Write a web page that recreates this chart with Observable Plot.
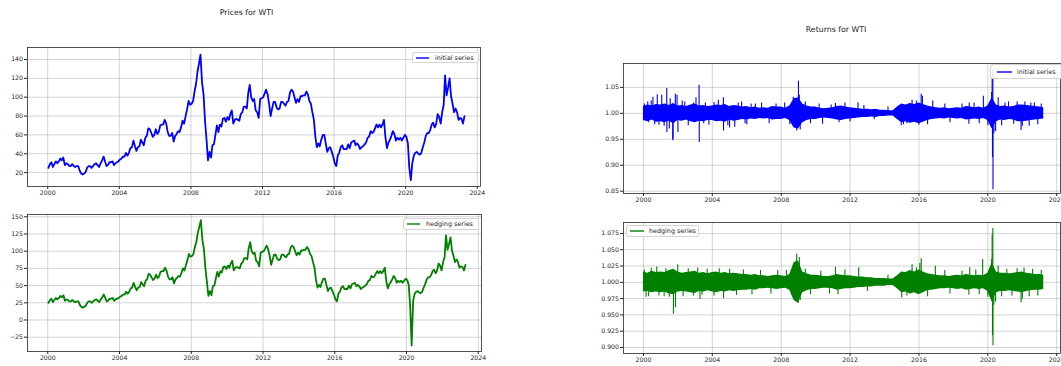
<!DOCTYPE html>
<html><head><meta charset="utf-8">
<script src="https://cdn.jsdelivr.net/npm/d3@7"></script>
<script src="https://cdn.jsdelivr.net/npm/@observablehq/plot@0.6"></script>
<style>
html,body{margin:0;padding:0;background:#fff;}
#root{position:relative;width:1061px;height:366px;overflow:hidden;font-family:"DejaVu Sans",sans-serif;background:#fff;}
.title{position:absolute;font-size:7.8px;color:#222;white-space:nowrap;transform:translate(-50%,-50%);}
.panel{position:absolute;}
.legend{position:absolute;background:rgba(255,255,255,0.9);border:1px solid #d4d4d4;border-radius:2px;box-sizing:border-box;font-size:6.4px;color:#222;display:flex;align-items:center;white-space:nowrap;}
.legend svg{display:block;}
</style></head>
<body><div id="root"></div>
<script>
// ---------------- data ----------------
const yearTicks = [2000, 2004, 2008, 2012, 2016, 2020, 2024];
const priceTicksTop = [20, 40, 60, 80, 100, 120, 140];
const priceTicksBottom = [-25, 0, 25, 50, 75, 100, 125, 150];
const returnTicksTop = [0.85, 0.90, 0.95, 1.00, 1.05];
const returnTicksBottom = [0.900, 0.925, 0.950, 0.975, 1.000, 1.025, 1.050, 1.075];

// monthly WTI prices (mid-month), Jan 2000 .. Apr 2023
const initialPrices = [
  25, 29, 31, 26, 29, 32, 30, 32, 35, 33, 36, 28,
  30, 29, 27, 27, 29, 27, 26, 27, 27, 22, 19, 18,
  19, 21, 25, 27, 27, 25, 27, 29, 30, 28, 26, 30,
  33, 37, 32, 27, 28, 31, 31, 32, 28, 30, 31, 32,
  34, 35, 37, 37, 41, 38, 41, 46, 47, 54, 48, 43,
  47, 48, 55, 52, 49, 57, 59, 67, 66, 62, 58, 60,
  66, 61, 63, 70, 71, 71, 76, 72, 63, 59, 59, 62,
  53, 59, 61, 64, 63, 68, 75, 72, 80, 87, 96, 92,
  93, 96, 106, 114, 127, 136, 145, 116, 103, 75, 55, 33,
  42, 36, 49, 50, 60, 70, 63, 71, 69, 77, 78, 74,
  79, 76, 82, 86, 72, 76, 77, 76, 75, 82, 84, 90,
  90, 88, 104, 113, 100, 96, 98, 86, 84, 78, 98, 99,
  100, 104, 108, 103, 93, 80, 88, 95, 95, 89, 87, 88,
  95, 95, 93, 91, 95, 96, 105, 108, 106, 100, 94, 98,
  95, 101, 101, 102, 102, 106, 103, 96, 93, 84, 76, 58,
  47, 51, 48, 55, 60, 60, 51, 42, 46, 47, 42, 37,
  30, 27, 38, 41, 47, 49, 45, 45, 45, 50, 46, 52,
  53, 54, 49, 51, 49, 45, 47, 48, 50, 52, 57, 58,
  64, 62, 63, 67, 71, 68, 71, 68, 71, 76, 57, 46,
  52, 55, 59, 64, 61, 54, 57, 55, 57, 54, 57, 60,
  58, 51, 25, 12, 30, 38, 41, 42, 40, 39, 41, 47,
  52, 59, 62, 62, 65, 71, 73, 68, 72, 82, 79, 72,
  84, 92, 123, 102, 110, 120, 101, 93, 84, 88, 84, 76,
  78, 77, 72, 80
];
const hedgingPrices = [
  25, 29, 31, 26, 29, 32, 30, 32, 35, 33, 36, 28,
  30, 29, 27, 27, 29, 27, 26, 27, 27, 22, 19, 18,
  19, 21, 25, 27, 27, 25, 27, 29, 30, 28, 26, 30,
  33, 37, 32, 27, 28, 31, 31, 32, 28, 30, 31, 32,
  34, 35, 37, 37, 41, 38, 41, 46, 47, 54, 48, 43,
  47, 48, 55, 52, 49, 57, 59, 67, 66, 62, 58, 60,
  66, 61, 63, 70, 71, 71, 76, 72, 63, 59, 59, 62,
  53, 59, 61, 64, 63, 68, 75, 72, 80, 87, 96, 92,
  93, 96, 106, 114, 127, 136, 145, 116, 103, 75, 55, 35,
  42, 36, 49, 50, 60, 70, 63, 71, 69, 77, 78, 74,
  79, 76, 82, 86, 72, 76, 77, 76, 75, 82, 84, 90,
  90, 88, 104, 113, 100, 96, 98, 86, 84, 78, 98, 99,
  100, 104, 108, 103, 93, 80, 88, 95, 95, 89, 87, 88,
  95, 95, 93, 91, 95, 96, 105, 108, 106, 100, 94, 98,
  95, 101, 101, 102, 102, 106, 103, 96, 93, 84, 76, 58,
  47, 51, 48, 55, 60, 60, 51, 42, 46, 47, 42, 37,
  30, 27, 38, 41, 47, 49, 45, 45, 45, 50, 46, 52,
  53, 54, 49, 51, 49, 45, 47, 48, 50, 52, 57, 58,
  64, 62, 63, 67, 71, 68, 71, 68, 71, 76, 57, 46,
  52, 55, 59, 64, 61, 54, 57, 55, 57, 54, 57, 60,
  58, 51, 21, -37, 28, 38, 41, 42, 40, 39, 41, 47,
  52, 59, 62, 62, 65, 71, 73, 68, 72, 82, 79, 72,
  84, 92, 123, 102, 110, 120, 101, 93, 84, 88, 84, 76,
  78, 77, 72, 80
];

// quarterly envelope of daily returns (Q1 2000 .. Q2 2023)
const initialReturnHigh = [
  1.013, 1.016, 1.014, 1.017,  1.016, 1.018, 1.015, 1.019,  1.014, 1.015, 1.013, 1.016,
  1.018, 1.014, 1.015, 1.013,  1.014, 1.016, 1.015, 1.017,  1.013, 1.015, 1.014, 1.012,
  1.013, 1.011, 1.012, 1.010,  1.011, 1.010, 1.013, 1.012,  1.012, 1.010, 1.014, 1.028,
  1.030, 1.018, 1.014, 1.012,  1.012, 1.010, 1.009, 1.010,  1.011, 1.013, 1.014, 1.012,
  1.011, 1.010, 1.009, 1.008,  1.008, 1.007, 1.008, 1.006,  1.006, 1.005, 1.005, 1.012,
  1.018, 1.016, 1.019, 1.017,  1.020, 1.017, 1.014, 1.012,  1.011, 1.010, 1.011, 1.009,
  1.010, 1.011, 1.010, 1.013,  1.012, 1.011, 1.012, 1.010,  1.014, 1.030, 1.016, 1.013,
  1.014, 1.012, 1.013, 1.016,  1.016, 1.015, 1.014, 1.013,  1.012, 1.011
];
const initialReturnLow = [
  0.986, 0.984, 0.987, 0.983,  0.984, 0.982, 0.985, 0.980,  0.986, 0.985, 0.987, 0.984,
  0.982, 0.985, 0.984, 0.986,  0.986, 0.984, 0.985, 0.983,  0.987, 0.985, 0.986, 0.988,
  0.987, 0.989, 0.988, 0.990,  0.989, 0.990, 0.987, 0.988,  0.988, 0.990, 0.986, 0.972,
  0.970, 0.982, 0.986, 0.988,  0.988, 0.990, 0.991, 0.990,  0.989, 0.987, 0.986, 0.988,
  0.989, 0.990, 0.991, 0.992,  0.992, 0.993, 0.992, 0.994,  0.994, 0.995, 0.995, 0.988,
  0.982, 0.984, 0.981, 0.983,  0.980, 0.983, 0.986, 0.988,  0.989, 0.990, 0.989, 0.991,
  0.990, 0.989, 0.990, 0.987,  0.988, 0.989, 0.988, 0.990,  0.986, 0.970, 0.984, 0.987,
  0.986, 0.988, 0.987, 0.984,  0.984, 0.985, 0.986, 0.987,  0.988, 0.989
];
const hedgingReturnHigh = [
  1.016, 1.014, 1.017, 1.015,  1.016, 1.015, 1.018, 1.020,  1.016, 1.014, 1.015, 1.016,
  1.017, 1.014, 1.015, 1.013,  1.015, 1.016, 1.014, 1.015,  1.013, 1.014, 1.013, 1.012,
  1.012, 1.011, 1.012, 1.010,  1.010, 1.009, 1.010, 1.011,  1.010, 1.009, 1.012, 1.030,
  1.033, 1.016, 1.013, 1.011,  1.011, 1.010, 1.009, 1.009,  1.010, 1.012, 1.011, 1.010,
  1.010, 1.009, 1.008, 1.008,  1.007, 1.007, 1.006, 1.006,  1.006, 1.005, 1.005, 1.010,
  1.016, 1.015, 1.018, 1.016,  1.019, 1.016, 1.013, 1.012,  1.011, 1.010, 1.010, 1.009,
  1.010, 1.011, 1.010, 1.012,  1.011, 1.010, 1.011, 1.010,  1.014, 1.030, 1.016, 1.014,
  1.014, 1.013, 1.014, 1.015,  1.016, 1.014, 1.013, 1.012,  1.012, 1.011
];
const hedgingReturnLow = [
  0.985, 0.986, 0.984, 0.985,  0.984, 0.985, 0.982, 0.981,  0.985, 0.986, 0.985, 0.984,
  0.983, 0.986, 0.985, 0.987,  0.985, 0.984, 0.986, 0.985,  0.987, 0.986, 0.987, 0.988,
  0.988, 0.989, 0.988, 0.990,  0.990, 0.991, 0.990, 0.989,  0.990, 0.991, 0.988, 0.972,
  0.968, 0.984, 0.987, 0.989,  0.989, 0.990, 0.991, 0.991,  0.990, 0.988, 0.989, 0.990,
  0.990, 0.991, 0.992, 0.992,  0.993, 0.993, 0.994, 0.994,  0.994, 0.995, 0.995, 0.990,
  0.984, 0.985, 0.982, 0.984,  0.981, 0.984, 0.987, 0.988,  0.989, 0.990, 0.990, 0.991,
  0.990, 0.989, 0.990, 0.988,  0.989, 0.990, 0.989, 0.990,  0.986, 0.970, 0.984, 0.986,
  0.986, 0.987, 0.986, 0.985,  0.984, 0.986, 0.987, 0.988,  0.988, 0.989
];

// isolated large daily returns [year, return]
const initialReturnSpikes = [
  [2000.05, 1.018], [2000.25, 1.022], [2000.30, 0.982], [2000.45, 1.024], [2000.55, 1.031],
  [2000.65, 0.978], [2000.80, 1.036], [2000.90, 0.977], [2001.06, 1.035], [2001.20, 0.975],
  [2001.35, 1.048], [2001.36, 0.963], [2001.50, 0.970], [2001.55, 1.028], [2001.70, 0.947],
  [2001.72, 0.950], [2001.85, 1.037], [2001.95, 1.035], [2002.00, 0.963], [2002.25, 1.024],
  [2002.40, 1.022], [2002.60, 0.976], [2002.90, 1.020], [2003.05, 1.030], [2003.23, 1.054],
  [2003.24, 0.944], [2003.50, 0.980], [2003.60, 1.020], [2003.80, 0.977], [2004.10, 1.021],
  [2004.35, 1.025], [2004.64, 1.030], [2004.65, 0.966], [2004.90, 0.976], [2005.00, 0.972],
  [2005.30, 0.973], [2005.50, 1.020], [2005.70, 1.022], [2005.90, 0.980], [2006.00, 0.978],
  [2006.25, 1.018], [2006.50, 1.018], [2006.86, 1.020], [2007.30, 0.980], [2007.70, 1.018],
  [2008.20, 1.020], [2008.50, 0.978], [2008.70, 1.031], [2008.90, 0.966], [2009.00, 1.062],
  [2009.05, 1.035], [2009.10, 0.968], [2009.40, 1.022], [2009.70, 0.980], [2010.20, 1.018],
  [2010.40, 0.979], [2010.90, 1.016], [2011.15, 1.019], [2011.36, 0.982], [2011.70, 1.020],
  [2012.00, 0.984], [2012.46, 1.0205], [2012.80, 1.015], [2013.40, 0.988], [2014.20, 1.012],
  [2014.97, 0.976], [2015.10, 0.978], [2015.30, 0.980], [2015.60, 1.025], [2015.85, 1.024],
  [2016.00, 0.977], [2016.13, 1.037], [2016.20, 1.033], [2016.50, 0.978], [2016.80, 1.024],
  [2017.50, 1.018], [2017.80, 0.982], [2018.50, 1.018], [2018.92, 1.020], [2018.90, 0.979],
  [2019.20, 1.020], [2019.50, 0.980], [2019.74, 1.033], [2020.00, 0.976], [2020.22, 1.040],
  [2020.25, 1.074], [2020.27, 0.915], [2020.29, 1.085], [2020.30, 0.853], [2020.35, 0.960],
  [2020.45, 0.965], [2020.60, 1.030], [2020.80, 0.976], [2021.00, 1.020], [2021.20, 1.022],
  [2021.50, 0.979], [2021.70, 1.022], [2021.93, 0.967], [2022.00, 0.975], [2022.15, 1.022],
  [2022.40, 0.975], [2022.50, 1.020], [2022.70, 1.020], [2022.90, 0.978], [2023.10, 1.018]
];
const hedgingReturnSpikes = [
  [2000.05, 1.019], [2000.15, 0.977], [2000.30, 0.978], [2000.45, 1.022], [2000.77, 1.0235],
  [2000.90, 0.979], [2001.20, 0.978], [2001.30, 1.021], [2001.50, 0.977], [2001.74, 0.951],
  [2001.86, 0.961], [2001.99, 1.027], [2002.30, 0.978], [2002.60, 1.021], [2002.90, 0.979],
  [2003.15, 1.022], [2003.28, 0.9735], [2003.40, 0.980], [2003.70, 1.020], [2004.10, 0.979],
  [2004.40, 1.021], [2004.65, 0.975], [2005.00, 1.020], [2005.40, 0.980], [2005.80, 1.019],
  [2006.30, 0.981], [2006.80, 1.018], [2007.40, 0.982], [2007.80, 1.018], [2008.30, 1.018],
  [2008.60, 0.980], [2008.85, 1.032], [2008.90, 1.0435], [2008.98, 0.968], [2009.05, 1.038],
  [2009.10, 0.972], [2009.40, 1.020], [2009.70, 0.981], [2010.30, 1.017], [2010.80, 0.982],
  [2011.15, 1.023], [2011.30, 0.981], [2011.70, 1.019], [2012.50, 1.0225], [2013.00, 0.986],
  [2014.20, 1.011], [2015.00, 0.976], [2015.30, 0.979], [2015.60, 1.027], [2015.85, 1.022],
  [2016.05, 1.029], [2016.13, 1.036], [2016.50, 0.978], [2016.95, 1.0245], [2017.50, 1.018],
  [2017.80, 0.982], [2018.50, 1.017], [2018.95, 1.0225], [2018.90, 0.980], [2019.30, 1.019],
  [2019.50, 0.981], [2019.70, 1.035], [2020.00, 0.977], [2020.22, 1.035], [2020.25, 1.073],
  [2020.27, 0.918], [2020.29, 1.0825], [2020.30, 0.9025], [2020.35, 0.965], [2020.45, 0.970],
  [2020.60, 1.025], [2020.80, 0.978], [2021.10, 1.020], [2021.40, 0.979], [2021.70, 1.021],
  [2021.93, 0.9685], [2022.00, 0.974], [2022.10, 1.022], [2022.40, 0.978], [2022.60, 1.020],
  [2022.90, 0.979], [2023.10, 1.018]
];

// ---------------- helpers ----------------
const fy = y => { const yr = Math.floor(y), f = y - yr; const s = Date.UTC(yr, 0, 1), e = Date.UTC(yr + 1, 0, 1); return new Date(s + f * (e - s)); };
const yearDates = yearTicks.map(y => new Date(Date.UTC(y, 0, 1)));
const monthly = arr => arr.map((v, i) => ({date: new Date(Date.UTC(2000, i, 15)), value: v}));
const quarterly = (hi, lo) => hi.map((h, i) => ({date: new Date(Date.UTC(2000, i * 3, 1)), hi: h, lo: lo[i]}));
const spikes = arr => arr.map(([y, v]) => ({date: fy(y), value: v}));
const minus = s => s.replace("-", "\u2212");

const BLUE = "#0000ff", GREEN = "#008000";
const root = document.getElementById("root");
const NS = "http://www.w3.org/2000/svg";

function addTitle(text, cx, cy) {
  const d = document.createElement("div");
  d.className = "title"; d.textContent = text;
  d.style.left = cx + "px"; d.style.top = cy + "px";
  root.appendChild(d);
}
function addLegend(text, color, box, sw) {
  const d = document.createElement("div");
  d.className = "legend";
  Object.assign(d.style, {left: box.x + "px", top: box.y + "px", width: box.w + "px", height: box.h + "px", paddingLeft: sw.pad + "px"});
  const s = document.createElementNS(NS, "svg");
  s.setAttribute("width", sw.w); s.setAttribute("height", 4);
  s.style.marginRight = sw.gap + "px";
  const ln = document.createElementNS(NS, "line");
  ln.setAttribute("x1", 0); ln.setAttribute("x2", sw.w); ln.setAttribute("y1", 2); ln.setAttribute("y2", 2);
  ln.setAttribute("stroke", color); ln.setAttribute("stroke-width", 1.4);
  s.appendChild(ln);
  const t = document.createElement("span"); t.textContent = text;
  d.appendChild(s); d.appendChild(t);
  root.appendChild(d);
}
function addPanel(box, frame, xDomain, yDomain, yTicks, yFormat, marks) {
  const svg = Plot.plot({
    width: box.w, height: box.h,
    marginLeft: frame.l - box.x, marginTop: frame.t - box.y,
    marginRight: box.x + box.w - frame.r, marginBottom: box.y + box.h - frame.b,
    style: {fontFamily: "DejaVu Sans, sans-serif", fontSize: "6.2px", color: "#262626", background: "transparent", overflow: "visible"},
    x: {type: "utc", domain: xDomain.map(fy), label: null},
    y: {domain: yDomain, label: null},
    marks: [
      Plot.gridX({ticks: yearDates, stroke: "#b0b0b0", strokeOpacity: 0.55}),
      Plot.gridY({ticks: yTicks, stroke: "#b0b0b0", strokeOpacity: 0.55}),
      ...marks,
      Plot.axisX({ticks: yearDates, tickFormat: d => String(d.getUTCFullYear()), tickSize: 3, tickPadding: 1.5, fontSize: 6.2, label: null}),
      Plot.axisY({ticks: yTicks, tickFormat: yFormat, tickSize: 3, tickPadding: 1.5, fontSize: 6.2, label: null}),
      Plot.frame({stroke: "#262626", strokeWidth: 0.8})
    ]
  });
  const wrap = document.createElement("div");
  wrap.className = "panel";
  wrap.style.left = box.x + "px"; wrap.style.top = box.y + "px";
  wrap.appendChild(svg);
  root.appendChild(wrap);
}

// ---------------- titles ----------------
addTitle("Prices for WTI", 246.5, 11.7);
addTitle("Returns for WTI", 836, 29.3);

// ---------------- prices ----------------
const leftX = [1998.87, 2024.18];
addPanel({x: 0, y: 38, w: 492, h: 164}, {l: 27, t: 47, r: 480, b: 186}, leftX, [5.3, 152.7],
  priceTicksTop, d => String(d),
  [Plot.lineY(monthly(initialPrices), {x: "date", y: "value", stroke: BLUE, strokeWidth: 1.8, clip: true})]);
addPanel({x: 0, y: 205, w: 492, h: 161}, {l: 27, t: 214, r: 481, b: 351}, leftX, [-45.8, 153.3],
  priceTicksBottom, d => minus(String(d)),
  [Plot.lineY(monthly(hedgingPrices), {x: "date", y: "value", stroke: GREEN, strokeWidth: 1.8, clip: true})]);

// ---------------- returns ----------------
const rightX = [1998.84, 2024.22];
const returnMarks = (hi, lo, sp, color) => [
  Plot.areaY(quarterly(hi, lo), {x: "date", y1: "lo", y2: "hi", fill: color, clip: true}),
  Plot.ruleX(spikes(sp), {x: "date", y1: 1, y2: "value", stroke: color, strokeWidth: 1.1, clip: true})
];
addPanel({x: 575, y: 55, w: 486, h: 150}, {l: 623, t: 63, r: 1060, b: 193}, rightX, [0.8456, 1.096],
  returnTicksTop, d => d.toFixed(2),
  returnMarks(initialReturnHigh, initialReturnLow, initialReturnSpikes, BLUE));
addPanel({x: 575, y: 212, w: 486, h: 154}, {l: 623, t: 222, r: 1060, b: 353}, rightX, [0.8908, 1.0918],
  returnTicksBottom, d => d.toFixed(3),
  returnMarks(hedgingReturnHigh, hedgingReturnLow, hedgingReturnSpikes, GREEN));

// ---------------- legends ----------------
addLegend("initial series", BLUE, {x: 412, y: 52, w: 67, h: 11}, {pad: 3, w: 13, gap: 6});
addLegend("hedging series", GREEN, {x: 403, y: 218, w: 76, h: 11.5}, {pad: 3, w: 13, gap: 6});
addLegend("initial series", BLUE, {x: 990, y: 64, w: 72, h: 15}, {pad: 6, w: 15, gap: 5});
addLegend("hedging series", GREEN, {x: 626, y: 225, w: 73, h: 12}, {pad: 3, w: 14, gap: 5});
</script>
</body></html>
